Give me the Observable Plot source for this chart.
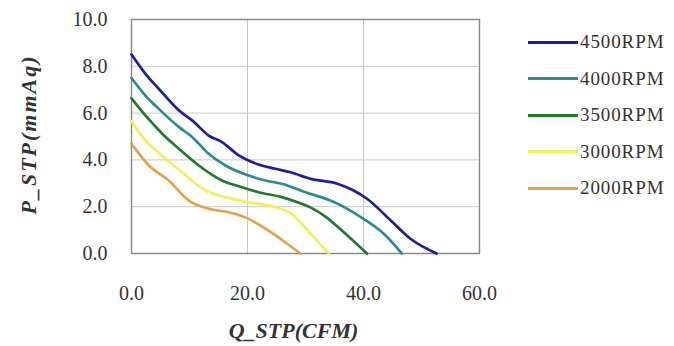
<!DOCTYPE html>
<html>
<head>
<meta charset="utf-8">
<script src="https://cdn.jsdelivr.net/npm/d3@7"></script>
<script src="https://cdn.jsdelivr.net/npm/@observablehq/plot@0.6"></script>
<style>
  html, body { margin: 0; padding: 0; background: #fff; }
  #wrap { position: relative; width: 674px; height: 346px; font-family: "Liberation Serif", "Times New Roman", serif; }
  #wrap svg text { font-family: "Liberation Serif", "Times New Roman", serif; }
  #legend { position: absolute; left: 528px; top: 24px; }
  .row { display: flex; align-items: center; height: 36.5px; }
  .sw { width: 50px; height: 3px; margin-right: 2px; }
  .lab { font-size: 19px; color: #333; letter-spacing: 0.9px; }
</style>
</head>
<body>
<div id="wrap"></div>
<script>
const seriesNames = ["4500RPM", "4000RPM", "3500RPM", "3000RPM", "2000RPM"];
const seriesColors = ["#1c1ca6", "#2a8c8c", "#207a2c", "#f2ee5c", "#e2a24a"];

const q4500 = [0, 2.4, 4.7, 8.2, 10.5, 13.3, 15.6, 18.5, 21.9, 24.8, 27.4, 30.9, 35.5, 38.3, 40.6, 44.7, 48.1, 52.6];
const p4500 = [8.5, 7.68, 7.04, 6.11, 5.68, 5.04, 4.76, 4.19, 3.8, 3.62, 3.47, 3.19, 2.98, 2.69, 2.34, 1.41, 0.63, 0];
const q4000 = [0, 2.4, 4.7, 8.2, 10.5, 13.3, 16.2, 20.2, 23.1, 25.9, 30.0, 34.3, 37.2, 40.0, 43.5, 46.6];
const p4000 = [7.5, 6.75, 6.18, 5.4, 4.97, 4.26, 3.76, 3.33, 3.12, 2.98, 2.62, 2.26, 1.91, 1.48, 0.84, 0];
const q3500 = [0, 2.4, 5.3, 8.2, 11.6, 15.6, 19.1, 21.9, 25.9, 28.5, 31.0, 33.2, 36.6, 40.6];
const p3500 = [6.63, 5.9, 5.12, 4.47, 3.76, 3.12, 2.83, 2.62, 2.41, 2.2, 1.95, 1.62, 0.91, 0];
const q3000 = [0, 2.4, 5.9, 8.7, 12.8, 16.2, 20.2, 24.8, 27.6, 30.3, 34.0];
const p3000 = [5.65, 4.83, 4.05, 3.47, 2.69, 2.41, 2.19, 1.98, 1.7, 1.0, 0];
const q2000 = [0, 3.0, 6.4, 9.9, 13.3, 16.8, 20.2, 23.1, 26.5, 29.1];
const p2000 = [4.69, 3.76, 3.12, 2.26, 1.91, 1.76, 1.48, 1.06, 0.48, 0];

const xTicks = [0, 20, 40, 60];
const yTicks = [0, 2, 4, 6, 8, 10];
const xTitle = "Q_STP(CFM)";
const yTitle = "P_STP(mmAq)";

const qs = [q4500, q4000, q3500, q3000, q2000];
const ps = [p4500, p4000, p3500, p3000, p2000];
const data = [];
seriesNames.forEach((name, i) => {
  qs[i].forEach((q, j) => data.push({series: name, q, p: ps[i][j]}));
});

const serif = '"Liberation Serif", "Times New Roman", serif';

const chart = Plot.plot({
  width: 674,
  height: 346,
  marginLeft: 131,
  marginRight: 195,
  marginTop: 19,
  marginBottom: 93,
  style: { fontFamily: serif, fontSize: "20px", color: "#333", background: "transparent" },
  x: { domain: [0, 60], ticks: xTicks },
  y: { domain: [0, 10], ticks: yTicks },
  color: { domain: seriesNames, range: seriesColors },
  marks: [
    Plot.gridX(xTicks, { stroke: "#c8c8c8", strokeOpacity: 1 }),
    Plot.gridY(yTicks, { stroke: "#c8c8c8", strokeOpacity: 1 }),
    Plot.frame({ stroke: "#8a8a8a", strokeWidth: 1.5 }),
    Plot.axisX(xTicks, { tickSize: 0, tickPadding: 32, tickFormat: d => d.toFixed(1), label: null, fontSize: 20 }),
    Plot.axisY(yTicks, { tickSize: 0, tickPadding: 24, tickFormat: d => d.toFixed(1), label: null, fontSize: 20 }),
    Plot.line(data, { x: "q", y: "p", z: "series", stroke: "series", strokeWidth: 2.7, curve: "monotone-x" }),
    Plot.text([xTitle], { frameAnchor: "bottom", dy: 77, dx: -12, text: d => d, fontWeight: "bold", fontStyle: "italic", fontSize: 22, fill: "#333", lineAnchor: "middle", textAnchor: "middle" }),
    Plot.text([yTitle], { frameAnchor: "left", dx: -103, dy: -2, rotate: -90, text: d => d, fontWeight: "bold", fontStyle: "italic", fontSize: 22, fill: "#333", lineAnchor: "middle", textAnchor: "middle" })
  ]
});

d3.select(chart).selectAll("text").filter(function() { return this.textContent === yTitle; }).attr("letter-spacing", 2);

const wrap = document.getElementById("wrap");
wrap.appendChild(chart);
const legend = document.createElement("div");
legend.id = "legend";
seriesNames.forEach((name, i) => {
  const row = document.createElement("div");
  row.className = "row";
  const sw = document.createElement("div");
  sw.className = "sw";
  sw.style.background = seriesColors[i];
  const lab = document.createElement("span");
  lab.className = "lab";
  lab.textContent = name;
  row.appendChild(sw);
  row.appendChild(lab);
  legend.appendChild(row);
});
wrap.appendChild(legend);
</script>
</body>
</html>
